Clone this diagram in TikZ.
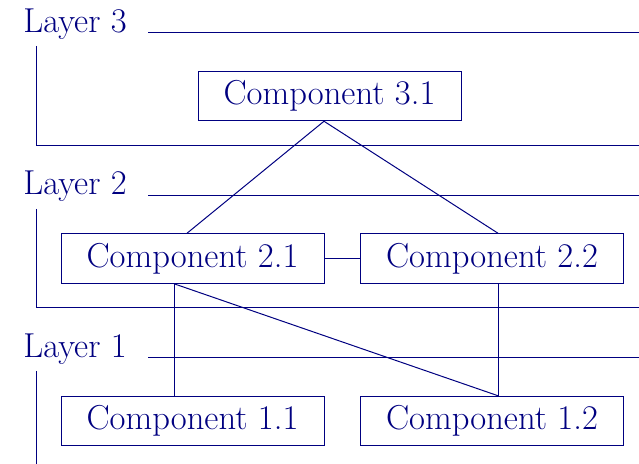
\documentclass[tikz,border=0pt]{standalone}
\usepackage{times}
\usetikzlibrary{positioning}
\definecolor{layerblue}{RGB}{0,0,128}
\tikzset{%
   comp/.style={rectangle, draw=layerblue, text=layerblue, line width=0.5pt,
      minimum width=131.5pt, minimum height=24.75pt, inner sep=0pt,
      font=\fontsize{17.3}{20}\selectfont},
   layer/.style={anchor=base west, inner sep=0pt, text=layerblue,
      font=\fontsize{17.3}{20}\selectfont},
   link/.style={draw=layerblue, line width=0.5pt},
}

\begin{document}
\begin{tikzpicture}[x=0.5pt, y=-0.5pt]
      \useasboundingbox (0,0) rectangle (639,464);
      % layer frames
      \node[layer] (l3) at (23,33) {Layer 3};
      \node[layer] (l2) at (23,195) {Layer 2};
      \node[layer] (l1) at (23,358) {Layer 1};
      \draw[link] (148,33) -- (639,33);
      \draw[link] (36,46) -- (36,146) -- (639,146);
      \draw[link] (148,195.5) -- (639,195.5);
      \draw[link] (36,209) -- (36,308) -- (639,308);
      \draw[link] (148,358) -- (639,358);
      \draw[link] (36,371) -- (36,464);
      % components
      \node[comp] (c31) at (329.5,96) {Component 3.1};
      \node[comp] (c21) at (192.5,258.5) {Component 2.1};
      \node[comp] (c22) at (492,258.5) {Component 2.2};
      \node[comp] (c11) at (192.5,421) {Component 1.1};
      \node[comp] (c12) at (492,421) {Component 1.2};
      % links
      \draw[link] ([xshift=-2.75pt]c31.south) -- ([xshift=-2.75pt]c21.north);
      \draw[link] ([xshift=-2.75pt]c31.south) -- ([xshift=3pt]c22.north);
      \draw[link] (c21) -- (c22);
      \draw[link] ([xshift=-9.25pt]c21.south) -- ([xshift=-9.25pt]c11.north);
      \draw[link] ([xshift=-9.25pt]c21.south) -- ([xshift=3pt]c12.north);
      \draw[link] ([xshift=3pt]c22.south) -- ([xshift=3pt]c12.north);
\end{tikzpicture}
\end{document}
